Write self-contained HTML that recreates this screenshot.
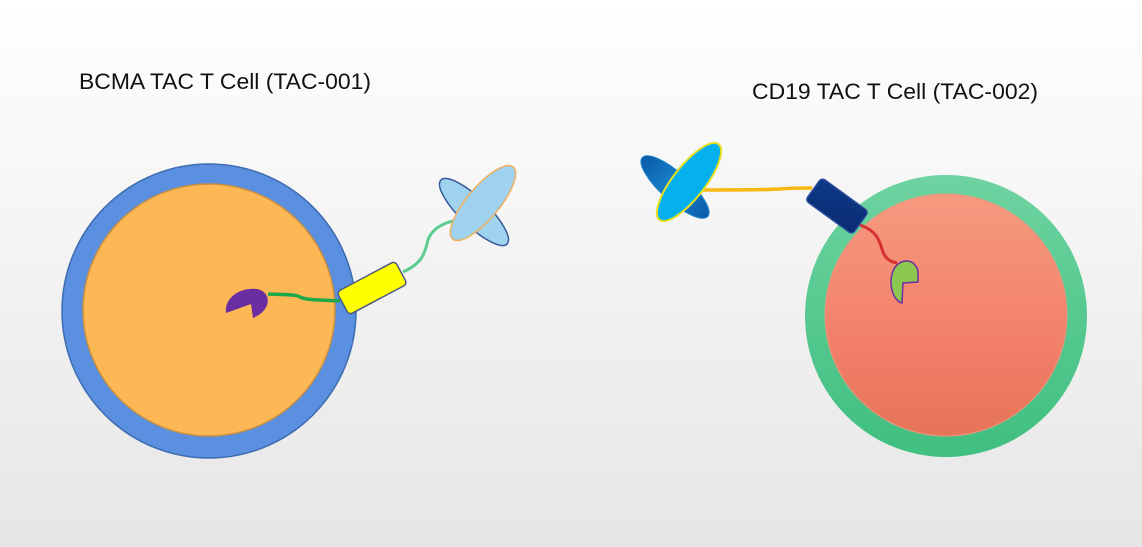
<!DOCTYPE html>
<html><head><meta charset="utf-8"><style>
html,body{margin:0;padding:0;width:1142px;height:547px;overflow:hidden}
</style></head><body>
<svg width="1142" height="547" viewBox="0 0 1142 547" xmlns="http://www.w3.org/2000/svg">
<defs>
<linearGradient id="bg" x1="0" y1="0" x2="0" y2="1"><stop offset="0" stop-color="#ffffff"/><stop offset="1" stop-color="#e6e6e6"/></linearGradient>
<linearGradient id="red" x1="0" y1="0" x2="0" y2="1"><stop offset="0" stop-color="#f59a80"/><stop offset="0.6" stop-color="#f3806a"/><stop offset="1" stop-color="#e57458"/></linearGradient>
<linearGradient id="grn" x1="0" y1="0" x2="0" y2="1"><stop offset="0" stop-color="#6ed3a0"/><stop offset="1" stop-color="#3fbf80"/></linearGradient>
<linearGradient id="dblue" x1="0" y1="0" x2="1" y2="0"><stop offset="0" stop-color="#0a5aa8"/><stop offset="0.5" stop-color="#1a86cc"/><stop offset="1" stop-color="#0a5aa8"/></linearGradient>
<linearGradient id="navy" x1="0" y1="0" x2="1" y2="1"><stop offset="0" stop-color="#0d3a8a"/><stop offset="1" stop-color="#0a2a70"/></linearGradient>
</defs>
<rect width="1142" height="547" fill="url(#bg)"/>
<text x="79" y="89" font-family="Liberation Sans, sans-serif" font-size="22" textLength="292" lengthAdjust="spacingAndGlyphs" fill="#111">BCMA TAC T Cell (TAC-001)</text>
<text x="752" y="99" font-family="Liberation Sans, sans-serif" font-size="22" textLength="286" lengthAdjust="spacingAndGlyphs" fill="#111">CD19 TAC T Cell (TAC-002)</text>

<!-- left cell -->
<circle cx="209" cy="311" r="147" fill="#5b8fe0" stroke="#3d6cb0" stroke-width="1.5"/>
<circle cx="209" cy="310" r="126" fill="#fdb755" stroke="#c89040" stroke-width="1.5"/>
<path d="M226,313 C224,298 240,287 257,289 C272,292 272,310 253,318 L251,304 Z" fill="#6a2ea0"/>
<path d="M268,294 C285,295 295,294 300,297 C305,300 320,300 340,301" fill="none" stroke="#1aa84a" stroke-width="3.5"/>
<path d="M403,272 C425,262 425,250 428,240 C432,228 445,222 458,220" fill="none" stroke="#5ccc90" stroke-width="3"/>
<g transform="translate(372,288) rotate(-28)"><rect x="-33" y="-13" width="66" height="26" rx="4" fill="#ffff00" stroke="#4a5a80" stroke-width="1.5"/></g>
<ellipse cx="474" cy="212" rx="46" ry="14" transform="rotate(44 474 212)" fill="#9fd2ee" stroke="#3a5a9a" stroke-width="1.5"/>
<ellipse cx="483" cy="203" rx="47" ry="16" transform="rotate(-50 483 203)" fill="#9fd2ee" stroke="#f0b060" stroke-width="1.5"/>

<!-- right cell -->
<circle cx="946" cy="316" r="141" fill="url(#grn)"/>
<circle cx="946" cy="315" r="121" fill="url(#red)" stroke="#e89a80" stroke-width="1"/>
<path d="M702,190 C740,190 760,190 780,189 C790,188 800,188 812,188" fill="none" stroke="#f8b810" stroke-width="3.5"/>
<ellipse cx="675" cy="187" rx="44" ry="14" transform="rotate(42 675 187)" fill="url(#dblue)" stroke="#1a86cc" stroke-width="1"/>
<ellipse cx="689" cy="182" rx="48" ry="16" transform="rotate(-52 689 182)" fill="#05b0ee" stroke="#e8e020" stroke-width="2"/>
<path d="M860,225 C880,232 880,245 883,252 C886,260 892,262 897,263" fill="none" stroke="#d83030" stroke-width="3"/>
<g transform="translate(837,206) rotate(36)"><rect x="-29" y="-14" width="58" height="28" rx="4" fill="url(#navy)" stroke="#2a4a9a" stroke-width="1.5"/></g>
<path d="M918,282 L903,283 L902,303 C893,300 888,285 893,271 C899,257 916,258 918,272 Z" fill="#8cc850" stroke="#6a30a0" stroke-width="1.5"/>
</svg>
</body></html>
